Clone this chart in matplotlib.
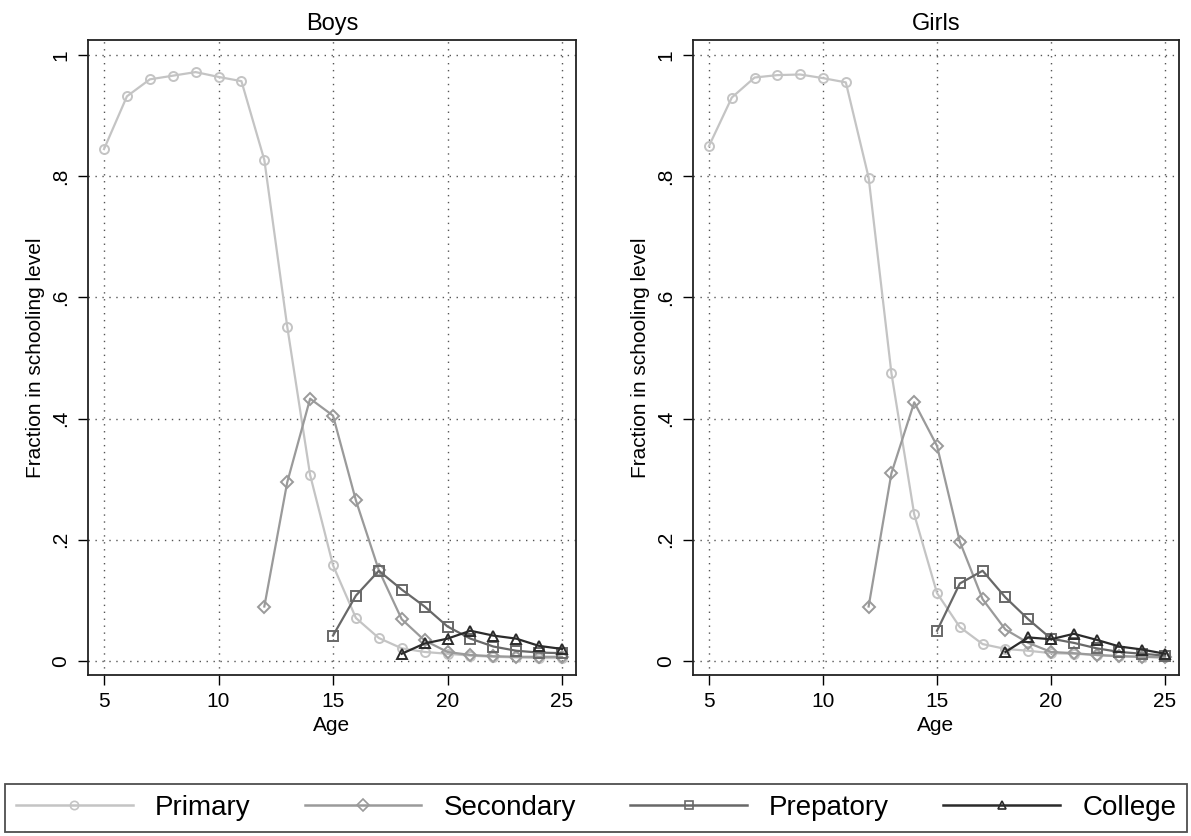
import matplotlib
matplotlib.use("Agg")
import matplotlib.pyplot as plt
from matplotlib.lines import Line2D

plt.rcParams['font.family'] = ['Liberation Sans', 'DejaVu Sans']

ages = list(range(5, 26))
ages_sec = list(range(12, 26))
ages_prep = list(range(15, 26))
ages_col = list(range(18, 26))

boys_primary = [0.845, 0.932, 0.960, 0.966, 0.972, 0.964, 0.957, 0.827, 0.552, 0.307, 0.158,
                0.071, 0.038, 0.021, 0.015, 0.012, 0.009, 0.007, 0.006, 0.005, 0.005]
boys_secondary = [0.090, 0.295, 0.433, 0.405, 0.265, 0.150, 0.069, 0.034, 0.015, 0.010,
                  0.008, 0.007, 0.007, 0.007]
boys_prep = [0.042, 0.108, 0.149, 0.118, 0.090, 0.057, 0.037, 0.024, 0.017, 0.014, 0.013]
boys_college = [0.012, 0.029, 0.037, 0.050, 0.042, 0.037, 0.025, 0.020]

girls_primary = [0.850, 0.930, 0.963, 0.967, 0.968, 0.962, 0.955, 0.798, 0.475, 0.242, 0.112,
                 0.056, 0.028, 0.020, 0.017, 0.013, 0.012, 0.010, 0.008, 0.007, 0.006]
girls_secondary = [0.090, 0.310, 0.427, 0.355, 0.197, 0.102, 0.052, 0.030, 0.015, 0.013,
                   0.010, 0.008, 0.007, 0.006]
girls_prep = [0.050, 0.128, 0.149, 0.105, 0.069, 0.037, 0.030, 0.021, 0.015, 0.012, 0.009]
girls_college = [0.015, 0.039, 0.036, 0.045, 0.035, 0.024, 0.019, 0.012]

labels = ['Primary', 'Secondary', 'Prepatory', 'College']
colors = ['#c4c4c4', '#9a9a9a', '#686868', '#2b2b2b']
markers = ['o', 'D', 's', '^']
msizes = [6.5, 6.5, 6.5, 7.5]

fig = plt.figure(figsize=(11.91, 8.36), dpi=100)
ax1 = fig.add_axes([0.0739, 0.1926, 0.4097, 0.7596])
ax2 = fig.add_axes([0.5819, 0.1926, 0.4080, 0.7596])

panels = [
    (ax1, 'Boys', [(ages, boys_primary), (ages_sec, boys_secondary),
                   (ages_prep, boys_prep), (ages_col, boys_college)]),
    (ax2, 'Girls', [(ages, girls_primary), (ages_sec, girls_secondary),
                    (ages_prep, girls_prep), (ages_col, girls_college)]),
]

for ax, title, series in panels:
    for (x, y), c, m, ms in zip(series, colors, markers, msizes):
        ax.plot(x, y, color=c, marker=m, markersize=ms, markerfacecolor='none',
                markeredgecolor=c, markeredgewidth=1.4, linewidth=1.6)
    ax.set_xlim(4.30, 25.61)
    ax.set_ylim(-0.023, 1.025)
    ax.set_xticks([5, 10, 15, 20, 25])
    ax.set_yticks([0, 0.2, 0.4, 0.6, 0.8, 1.0])
    ax.set_yticklabels(['0', '.2', '.4', '.6', '.8', '1'], rotation=90, va='center')
    ax.grid(True, linestyle=(0, (1, 4)), color='#555555', linewidth=1)
    ax.tick_params(labelsize=15, length=7, width=1, direction='out')
    ax.tick_params(axis='x', pad=5)
    ax.tick_params(axis='y', pad=6)
    for s in ax.spines.values():
        s.set_linewidth(1.3)
        s.set_color('#222222')
    ax.set_title(title, fontsize=17, pad=7)
    ax.set_xlabel('Age', fontsize=15, labelpad=4)
    ax.set_ylabel('Fraction in schooling level', fontsize=15, labelpad=4)

handles = [Line2D([], [], color=c, marker=m, markersize=6, markerfacecolor='none',
                  markeredgecolor=c, markeredgewidth=1.2, linewidth=1.8)
           for c, m in zip(colors, markers)]
leg = fig.legend(handles, labels, loc='lower left', ncol=4, mode='expand',
                 bbox_to_anchor=(0.004, 0.005, 0.993, 0.065), fontsize=20,
                 frameon=True, fancybox=False, handlelength=4.2, borderaxespad=0,
                 handletextpad=0.8)
leg.get_frame().set_edgecolor('#222222')
leg.get_frame().set_linewidth(1.3)

fig.savefig('out.png', dpi=100, facecolor='white')
